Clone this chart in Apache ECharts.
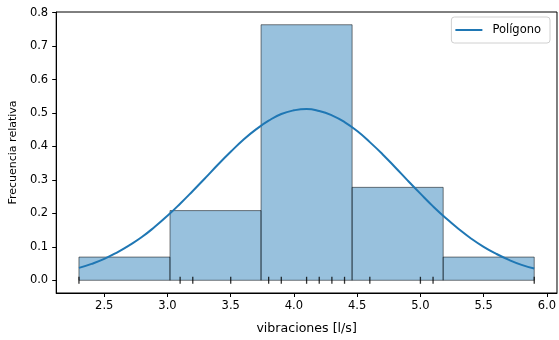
<!DOCTYPE html>
<html><head><meta charset="utf-8">
<script src="https://cdn.jsdelivr.net/npm/echarts@6/dist/echarts.min.js"></script>
<style>html,body{margin:0;padding:0;background:#fff}#c{width:559px;height:340px}</style>
</head><body><div id="c"></div>
<script>
// Histogram bins (edges) and relative frequency (density) heights
const binEdges = [2.3, 3.02, 3.74, 4.46, 5.18, 5.9];
const binHeights = [0.0694, 0.2083, 0.7639, 0.2778, 0.0694];
// Rug: observed values
const rugValues = [2.3, 3.1, 3.2, 3.5, 3.8, 3.9, 4.1, 4.2, 4.3, 4.4, 4.6, 5.0, 5.1, 5.9];
// "Polígono" curve
const curveX = [2.3,2.4,2.5,2.6,2.7,2.8,2.9,3.0,3.1,3.2,3.3,3.4,3.5,3.6,3.7,3.8,3.9,4.0,4.1,4.2,4.3,4.4,4.5,4.6,4.7,4.8,4.9,5.0,5.1,5.2,5.3,5.4,5.5,5.6,5.7,5.8,5.9];
const curveY = [0.037,0.049,0.064,0.083,0.105,0.130,0.160,0.193,0.229,0.267,0.306,0.346,0.384,0.420,0.451,0.477,0.497,0.508,0.512,0.506,0.493,0.473,0.446,0.413,0.377,0.338,0.298,0.259,0.221,0.186,0.154,0.125,0.100,0.079,0.061,0.046,0.035];
const xTicks = [2.5, 3.0, 3.5, 4.0, 4.5, 5.0, 5.5, 6.0];
const yTicks = [0, 0.1, 0.2, 0.3, 0.4, 0.5, 0.6, 0.7, 0.8];

const bins = binHeights.map((h, i) => [binEdges[i], binEdges[i + 1], h]);
const font = 'DejaVu Sans';
const chart = echarts.init(document.getElementById('c'), null, {renderer: 'canvas'});
chart.setOption({
  animation: false,
  backgroundColor: '#fff',
  textStyle: {fontFamily: font},
  grid: {left: 55, right: 1, top: 12, bottom: 45, show: true, borderColor: '#000', borderWidth: 1, containLabel: false},
  legend: {
    right: 9, top: 17,
    data: [{name: 'Polígono', icon: 'rect'}],
    itemWidth: 27, itemHeight: 2, itemGap: 8,
    padding: [7, 9, 7, 4],
    borderColor: '#d0d0d0', borderWidth: 1, borderRadius: 3,
    backgroundColor: 'rgba(255,255,255,0.8)',
    textStyle: {fontFamily: font, fontSize: 11.5, color: '#000', padding: [0, 0, 0, 5]}
  },
  xAxis: {
    type: 'value', min: 2.12, max: 6.08,
    name: 'vibraciones [l/s]', nameLocation: 'middle', nameGap: 29,
    nameTextStyle: {fontFamily: font, fontSize: 12.6, color: '#000'},
    axisLine: {show: true, onZero: false, lineStyle: {color: '#000', width: 1}},
    axisTick: {show: true, length: 4, customValues: xTicks, lineStyle: {color: '#000'}},
    axisLabel: {customValues: xTicks, margin: 7, fontFamily: font, fontSize: 11.5, color: '#000', formatter: v => v.toFixed(1)},
    splitLine: {show: false}
  },
  yAxis: {
    type: 'value', min: -0.038, max: 0.802,
    name: 'Frecuencia relativa', nameLocation: 'middle', nameGap: 35.5, nameRotate: 90,
    nameTextStyle: {fontFamily: font, fontSize: 11, color: '#000'},
    axisLine: {show: true, onZero: false, lineStyle: {color: '#000', width: 1}},
    axisTick: {show: true, length: 4, customValues: yTicks, lineStyle: {color: '#000'}},
    axisLabel: {customValues: yTicks, margin: 8, fontFamily: font, fontSize: 11.5, color: '#000', formatter: v => v.toFixed(1)},
    splitLine: {show: false}
  },
  series: [
    {
      type: 'custom', name: 'hist', data: bins, z: 2,
      encode: {x: [0, 1], y: 2},
      renderItem: function (params, api) {
        const p0 = api.coord([api.value(0), api.value(2)]);
        const p1 = api.coord([api.value(1), 0]);
        return {
          type: 'rect',
          shape: {x: p0[0], y: p0[1], width: p1[0] - p0[0], height: p1[1] - p0[1]},
          style: {fill: 'rgba(31,119,180,0.46)', stroke: 'rgba(0,0,0,0.5)', lineWidth: 1}
        };
      }
    },
    {
      type: 'scatter', name: 'rug', data: rugValues.map(v => [v, 0]), z: 3,
      symbol: 'rect', symbolSize: [1.3, 7], itemStyle: {color: '#000'}, silent: true
    },
    {
      type: 'line', name: 'Polígono', data: curveX.map((x, i) => [x, curveY[i]]), z: 4,
      showSymbol: false, smooth: true, lineStyle: {color: '#1f77b4', width: 2}, itemStyle: {color: '#1f77b4'}
    }
  ]
});
</script></body></html>
